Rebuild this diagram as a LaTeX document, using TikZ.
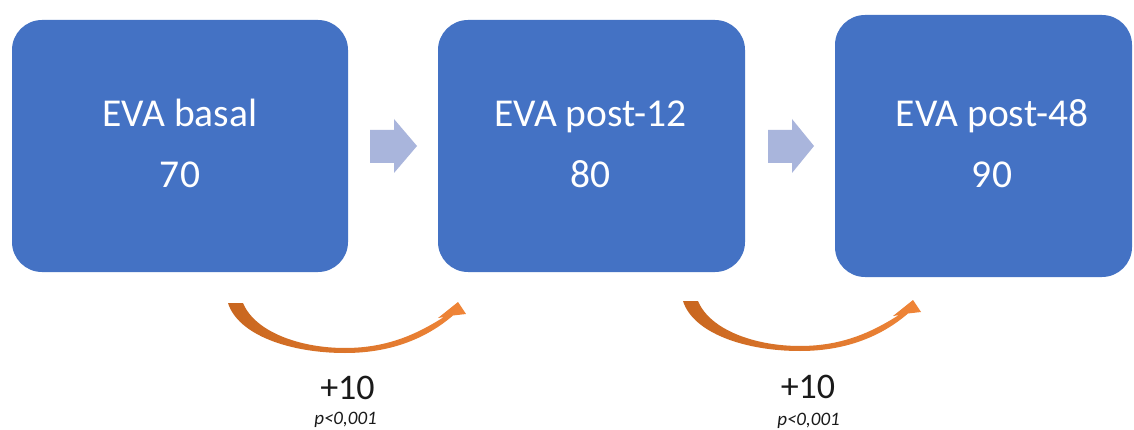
\documentclass[tikz,border=0pt]{standalone}
\usepackage{fontspec}
\setmainfont{Carlito}
\definecolor{stageblue}{HTML}{4472C4}
\definecolor{flowblue}{HTML}{A9B5DC}
\definecolor{gaindark}{HTML}{C8661F}
\definecolor{gainlight}{HTML}{F08538}
\definecolor{labelink}{HTML}{1A1A1A}
\tikzset{
  stagebox/.style={rectangle, rounded corners=30pt, fill=stageblue, inner sep=0pt, outer sep=0pt},
  stagetext/.style={text=white, inner sep=0pt, anchor=base, font=\fontsize{39.5}{46}\selectfont},
  gaintext/.style={text=labelink, inner sep=0pt, anchor=base, font=\fontsize{36}{42}\selectfont},
  ptext/.style={text=labelink, inner sep=0pt, anchor=base, font=\fontsize{19}{22}\selectfont\itshape},
  flowarrow/.style={fill=flowblue},
  gainarrow/.pic={
    \shade[left color=gaindark, right color=gainlight]
      (0,0) -- (15,0)
      .. controls (27,29) and (72,45) .. (117,45)
      .. controls (162,45) and (192,29) .. (216,14)
      -- (210,15) -- (230,-1) -- (238,11) -- (225,12.5)
      .. controls (200,34) and (165,50) .. (117,50)
      .. controls (62,50) and (10,32) .. (0,0) -- cycle;
  }
}
\begin{document}
\begin{tikzpicture}[x=1pt,y=-1pt]
\useasboundingbox (0,0) rectangle (1134,430);
\fill[white] (0,0) rectangle (1134,430);

% stage boxes
\node[stagebox, minimum width=336pt, minimum height=252pt] (basal) at (180,146) {};
\node[stagebox, minimum width=307pt, minimum height=252pt] (post12) at (591.5,146) {};
\node[stagebox, minimum width=297pt, minimum height=262pt] (post48) at (983.5,146) {};

% box texts
\node[stagetext] (basalname) at (180,127) {EVA basal};
\node[stagetext] (basalval) at (180,188) {70};
\node[stagetext] (post12name) at (590.5,127) {EVA post-12};
\node[stagetext] (post12val) at (590.5,188) {80};
\node[stagetext] (post48name) at (992,127) {EVA post-48};
\node[stagetext] (post48val) at (992,188) {90};

% block arrows between stages
\fill[flowarrow] (370,130) -- (394,130) -- (394,119) -- (417,146) -- (394,173) -- (394,163) -- (370,163) -- cycle;
\fill[flowarrow] (768,130) -- (792,130) -- (792,119) -- (814,146) -- (792,173) -- (792,163) -- (768,163) -- cycle;

% curved gain arrows
\pic at (228,303) {gainarrow};
\pic at (683,301) {gainarrow};

% gain labels
\node[gaintext] (gain1) at (347.5,399) {+10};
\node[ptext] (p1) at (345.5,424) {p<0,001};
\node[gaintext] (gain2) at (808,398) {+10};
\node[ptext] (p2) at (808.5,425) {p<0,001};
\end{tikzpicture}
\end{document}
